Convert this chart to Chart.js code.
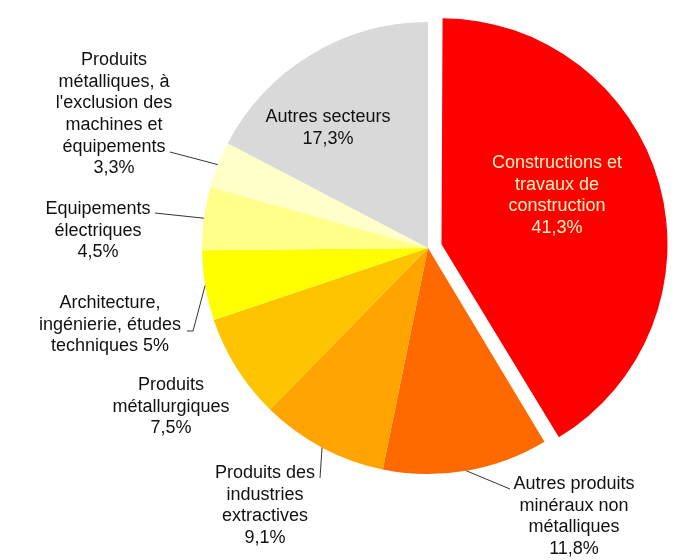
<!DOCTYPE html>
<html lang="fr">
  <head>
    <meta charset="utf-8">
    <title>Répartition par secteur</title>
    <script src="https://cdn.jsdelivr.net/npm/chart.js@4.4.0/dist/chart.umd.min.js"></script>
    <style>
      body { margin: 0; background: #fff; }
      #wrap { width: 699px; height: 560px; }
    </style>
  </head>
  <body>
    <div id="wrap"><canvas id="pieChart" width="699" height="560"></canvas></div>

    <script type="text/javascript">
        // donnees (sens horaire depuis midi)
        var secteurs = [
            ['Constructions et', 'travaux de', 'construction'],
            ['Autres produits', 'minéraux non', 'métalliques'],
            ['Produits des', 'industries', 'extractives'],
            ['Produits', 'métallurgiques'],
            ['Architecture,', 'ingénierie, études', 'techniques'],
            ['Equipements', 'électriques'],
            ['Produits', 'métalliques, à', "l'exclusion des", 'machines et', 'équipements'],
            ['Autres secteurs']
        ];
        var parts = [41.3, 11.8, 9.1, 7.5, 5, 4.5, 3.3, 17.3];
        var partsTxt = ['41,3%', '11,8%', '9,1%', '7,5%', '5%', '4,5%', '3,3%', '17,3%'];

        var couleurs = ['#ff0000', '#ff6a00', '#ffa400', '#ffc400', '#ffff00', '#ffff8a', '#ffffc8', '#d9d9d9'];

        var rayon = 226;
        var decalage = 56; // chart.js translate l'arc de offset/4

        // placement des etiquettes : centre x, y de la 1re ligne, fin du trait de rappel
        var etiquettes = [
            {x: 557, y: 163, color: '#fff2c0', lead: null},
            {x: 574, y: 484, color: '#111', lead: [[510, 489]]},
            {x: 265, y: 473, color: '#111', lead: [[320, 478]]},
            {x: 171, y: 385, color: '#111', lead: null},
            {x: 110, y: 303, color: '#111', lead: [[193, 331], [187, 331]], inline: true},
            {x: 98, y: 209, color: '#111', lead: [[155, 213]]},
            {x: 114, y: 60, color: '#111', lead: [[170, 152]]},
            {x: 328, y: 117, color: '#111', lead: null}
        ];

        // garde le meme rayon pour la part detachee
        var rayonPlugin = {
            id: 'rayonFixe',
            beforeDatasetsDraw: function (chart) {
                chart.getDatasetMeta(0).data.forEach(function (arc) {
                    var off = (arc.options.offset || 0) / 4;
                    var fix = 1 - Math.sin(Math.min(Math.PI, arc.circumference));
                    arc.outerRadius = rayon - off * fix;
                });
            }
        };

        var labelPlugin = {
            id: 'etiquettes',
            afterDraw: function (chart) {
                var ctx = chart.ctx;
                var arcs = chart.getDatasetMeta(0).data;
                ctx.save();
                ctx.font = '18px "Liberation Sans", Arial, sans-serif';
                ctx.textAlign = 'center';
                ctx.textBaseline = 'middle';
                arcs.forEach(function (arc, i) {
                    var e = etiquettes[i];
                    if (e.lead) {
                        var mid = (arc.startAngle + arc.endAngle) / 2;
                        var px = arc.x + Math.cos(mid) * rayon;
                        var py = arc.y + Math.sin(mid) * rayon;
                        ctx.strokeStyle = '#333';
                        ctx.lineWidth = 1;
                        ctx.beginPath();
                        ctx.moveTo(px, py);
                        e.lead.forEach(function (p) { ctx.lineTo(p[0], p[1]); });
                        ctx.stroke();
                    }
                    var lignes = secteurs[i].slice();
                    if (e.inline) {
                        lignes[lignes.length - 1] += ' ' + partsTxt[i];
                    } else {
                        lignes.push(partsTxt[i]);
                    }
                    ctx.fillStyle = e.color;
                    lignes.forEach(function (l, k) {
                        ctx.fillText(l, e.x, e.y + k * 21.7);
                    });
                });
                ctx.restore();
            }
        };

        var chart = new Chart(document.getElementById('pieChart').getContext('2d'), {
            type: 'pie',
            data: {
                labels: secteurs.map(function (s) { return s.join(' '); }),
                datasets: [{
                    data: parts,
                    backgroundColor: couleurs,
                    borderWidth: 0,
                    offset: [decalage, 0, 0, 0, 0, 0, 0, 0]
                }]
            },
            options: {
                responsive: false,
                animation: false,
                radius: rayon,
                layout: {padding: {left: 200, right: 43, top: 10, bottom: 74}},
                plugins: {
                    legend: {display: false},
                    tooltip: {enabled: false}
                }
            },
            plugins: [rayonPlugin, labelPlugin]
        });
    </script>
  </body>
</html>
